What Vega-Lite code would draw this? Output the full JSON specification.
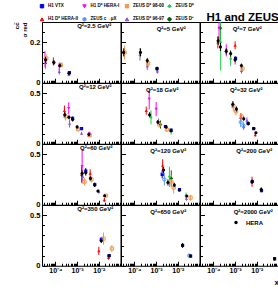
{
"$schema":"https://vega.github.io/schema/vega-lite/v6.json",
"autosize":{"type":"pad"},
"padding":{"left":13,"top":3,"right":0,"bottom":0},
"background":"white",
"data":{"values":[
{"p":1,"s":"HERA","x":3.5e-5,"y":0.113,"e":0.015},{"p":1,"s":"HERA","x":8.5e-5,"y":0.10,"e":0.012},{"p":1,"s":"HERA","x":1.6e-4,"y":0.085,"e":0.01},{"p":1,"s":"HERA","x":4.2e-4,"y":0.047,"e":0.006},
{"p":1,"s":"H1 D* HERA-I","x":3.3e-5,"y":0.115,"e":0.04},{"p":1,"s":"ZEUS D* 98-00","x":3.8e-5,"y":0.12,"e":0.02},{"p":1,"s":"ZEUS D* 96-97","x":3.5e-5,"y":0.10,"e":0.03},{"p":1,"s":"H1 D* HERA-II","x":8e-5,"y":0.105,"e":0.02},{"p":1,"s":"H1 D* HERA-I","x":1.5e-4,"y":0.08,"e":0.02},{"p":1,"s":"ZEUS D* 98-00","x":1.8e-4,"y":0.088,"e":0.012},{"p":1,"s":"ZEUS D* 96-97","x":1.5e-4,"y":0.055,"e":0.015},{"p":1,"s":"ZEUS D* 96-97","x":4.2e-4,"y":0.04,"e":0.008},{"p":1,"s":"H1 VTX","x":4.4e-4,"y":0.05,"e":0.008},
{"p":2,"s":"HERA","x":3.2e-5,"y":0.15,"e":0.02},{"p":2,"s":"HERA","x":1.9e-4,"y":0.15,"e":0.02},{"p":2,"s":"HERA","x":3.9e-4,"y":0.11,"e":0.012},{"p":2,"s":"HERA","x":1.1e-3,"y":0.069,"e":0.008},
{"p":2,"s":"ZEUS D* 98-00","x":3.5e-5,"y":0.15,"e":0.035},{"p":2,"s":"ZEUS D* 96-97","x":1.8e-4,"y":0.14,"e":0.03},{"p":2,"s":"ZEUS D* 98-00","x":4.3e-4,"y":0.095,"e":0.015},{"p":2,"s":"ZEUS D* 96-97","x":3.9e-4,"y":0.082,"e":0.02},{"p":2,"s":"ZEUS D* 96-97","x":1.15e-3,"y":0.057,"e":0.012},{"p":2,"s":"H1 VTX","x":1.1e-3,"y":0.07,"e":0.01},
{"p":3,"s":"HERA","x":1.65e-4,"y":0.207,"e":0.02},{"p":3,"s":"HERA","x":2.1e-4,"y":0.177,"e":0.02},{"p":3,"s":"HERA","x":3.9e-4,"y":0.155,"e":0.015},{"p":3,"s":"HERA","x":6.2e-4,"y":0.144,"e":0.015},{"p":3,"s":"HERA","x":1.0e-3,"y":0.114,"e":0.012},{"p":3,"s":"HERA","x":1.95e-3,"y":0.085,"e":0.01},
{"p":3,"s":"ZEUS D⁺","x":2.1e-4,"y":0.27,"e":0.06},{"p":3,"s":"ZEUS D⁰","x":2.15e-4,"y":0.2,"e":0.14},{"p":3,"s":"H1 D* HERA-I","x":1.8e-4,"y":0.27,"e":0.06},{"p":3,"s":"H1 D* HERA-II","x":1.6e-4,"y":0.2,"e":0.03},{"p":3,"s":"H1 D* HERA-II","x":1.0e-3,"y":0.185,"e":0.02},{"p":3,"s":"H1 D* HERA-I","x":3.9e-4,"y":0.16,"e":0.03},{"p":3,"s":"H1 D* HERA-I","x":1.0e-3,"y":0.11,"e":0.02},{"p":3,"s":"ZEUS D⁰","x":6.2e-4,"y":0.118,"e":0.035},{"p":3,"s":"ZEUS D* 96-97","x":1.95e-3,"y":0.06,"e":0.015},{"p":3,"s":"ZEUS D* 98-00","x":2.2e-3,"y":0.07,"e":0.015},{"p":3,"s":"H1 VTX","x":1.05e-3,"y":0.12,"e":0.01},
{"p":4,"s":"HERA","x":2.7e-4,"y":0.286,"e":0.025},{"p":4,"s":"HERA","x":4.2e-4,"y":0.262,"e":0.02},{"p":4,"s":"HERA","x":6.2e-4,"y":0.24,"e":0.02},{"p":4,"s":"HERA","x":1.0e-3,"y":0.166,"e":0.015},{"p":4,"s":"HERA","x":3.5e-3,"y":0.093,"e":0.01},
{"p":4,"s":"H1 D* HERA-II","x":2.6e-4,"y":0.327,"e":0.05},{"p":4,"s":"H1 D* HERA-II","x":3.5e-3,"y":0.08,"e":0.015},{"p":4,"s":"H1 D* HERA-I","x":4.1e-4,"y":0.35,"e":0.06},{"p":4,"s":"H1 D* HERA-I","x":3.6e-3,"y":0.1,"e":0.02},{"p":4,"s":"ZEUS D* 98-00","x":2.9e-4,"y":0.27,"e":0.04},{"p":4,"s":"ZEUS D* 98-00","x":1.1e-3,"y":0.143,"e":0.02},{"p":4,"s":"ZEUS D* 98-00","x":3.8e-3,"y":0.085,"e":0.012},{"p":4,"s":"ZEUS D* 96-97","x":4.5e-4,"y":0.2,"e":0.04},{"p":4,"s":"ZEUS D* 96-97","x":1.6e-3,"y":0.103,"e":0.015},{"p":4,"s":"H1 VTX","x":6.2e-4,"y":0.25,"e":0.02},{"p":4,"s":"H1 VTX","x":1.6e-3,"y":0.15,"e":0.015},
{"p":5,"s":"HERA","x":5.0e-4,"y":0.286,"e":0.025},{"p":5,"s":"HERA","x":1.2e-3,"y":0.214,"e":0.02},{"p":5,"s":"HERA","x":2.9e-3,"y":0.166,"e":0.015},{"p":5,"s":"HERA","x":4.9e-3,"y":0.128,"e":0.012},
{"p":5,"s":"H1 D* HERA-II","x":3.5e-4,"y":0.327,"e":0.04},{"p":5,"s":"H1 D* HERA-I","x":4.8e-4,"y":0.44,"e":0.1},{"p":5,"s":"H1 D* HERA-I","x":1.0e-3,"y":0.343,"e":0.07},{"p":5,"s":"ZEUS D⁰","x":5.8e-4,"y":0.26,"e":0.07},{"p":5,"s":"ZEUS D⁰","x":4.9e-3,"y":0.12,"e":0.03},{"p":5,"s":"ZEUS D⁺","x":1.6e-3,"y":0.19,"e":0.04},{"p":5,"s":"ZEUS D* 96-97","x":1.3e-3,"y":0.22,"e":0.03},{"p":5,"s":"ZEUS D* 98-00","x":1.4e-3,"y":0.19,"e":0.03},{"p":5,"s":"ZEUS D* 98-00","x":3.1e-3,"y":0.14,"e":0.02},{"p":5,"s":"H1 VTX","x":2.7e-3,"y":0.17,"e":0.015},{"p":5,"s":"H1 VTX","x":4.9e-3,"y":0.135,"e":0.012},
{"p":6,"s":"HERA","x":7.8e-4,"y":0.39,"e":0.03},{"p":6,"s":"HERA","x":1.15e-3,"y":0.343,"e":0.025},{"p":6,"s":"HERA","x":2.5e-3,"y":0.247,"e":0.02},{"p":6,"s":"HERA","x":4.0e-3,"y":0.199,"e":0.02},{"p":6,"s":"HERA","x":7.2e-3,"y":0.151,"e":0.015},{"p":6,"s":"HERA","x":9.1e-3,"y":0.109,"e":0.01},
{"p":6,"s":"ZEUS D* 98-00","x":8.3e-4,"y":0.37,"e":0.05},{"p":6,"s":"ZEUS D* 98-00","x":1.1e-3,"y":0.32,"e":0.04},{"p":6,"s":"ZEUS D* 98-00","x":2.0e-3,"y":0.27,"e":0.03},{"p":6,"s":"H1 D* HERA-II","x":1.8e-3,"y":0.26,"e":0.04},{"p":6,"s":"H1 D* HERA-II","x":8.5e-3,"y":0.087,"e":0.015},{"p":6,"s":"ZEUS c→μX","x":1.8e-3,"y":0.214,"e":0.05},{"p":6,"s":"ZEUS c→μX","x":2.4e-3,"y":0.18,"e":0.04},{"p":6,"s":"ZEUS D* 96-97","x":2.5e-3,"y":0.17,"e":0.03},{"p":6,"s":"ZEUS D* 96-97","x":3.5e-3,"y":0.23,"e":0.03},{"p":6,"s":"H1 VTX","x":4.0e-3,"y":0.2,"e":0.015},{"p":6,"s":"H1 VTX","x":7.2e-3,"y":0.15,"e":0.012},
{"p":7,"s":"HERA","x":1.7e-3,"y":0.31,"e":0.03},{"p":7,"s":"HERA","x":2.5e-3,"y":0.318,"e":0.03},{"p":7,"s":"HERA","x":4.1e-3,"y":0.26,"e":0.02},{"p":7,"s":"HERA","x":6.5e-3,"y":0.195,"e":0.02},{"p":7,"s":"HERA","x":9.1e-3,"y":0.136,"e":0.012},{"p":7,"s":"HERA","x":1.86e-2,"y":0.089,"e":0.01},
{"p":7,"s":"H1 D* HERA-I","x":1.7e-3,"y":0.38,"e":0.17},{"p":7,"s":"H1 D* HERA-II","x":1.6e-3,"y":0.3,"e":0.08},{"p":7,"s":"H1 D* HERA-II","x":4.0e-3,"y":0.31,"e":0.04},{"p":7,"s":"H1 D* HERA-II","x":1.8e-2,"y":0.047,"e":0.02},{"p":7,"s":"H1 VTX","x":2.5e-3,"y":0.333,"e":0.03},{"p":7,"s":"H1 VTX","x":6.5e-3,"y":0.2,"e":0.02},{"p":7,"s":"ZEUS D* 96-97","x":1.8e-3,"y":0.28,"e":0.04},{"p":7,"s":"ZEUS D* 96-97","x":1.0e-2,"y":0.129,"e":0.02},{"p":7,"s":"ZEUS D* 98-00","x":2.2e-3,"y":0.228,"e":0.04},{"p":7,"s":"ZEUS D* 98-00","x":4.6e-3,"y":0.25,"e":0.03},{"p":7,"s":"ZEUS D* 98-00","x":2.1e-2,"y":0.09,"e":0.015},
{"p":8,"s":"HERA","x":2.2e-3,"y":0.343,"e":0.03},{"p":8,"s":"HERA","x":3.5e-3,"y":0.22,"e":0.03},{"p":8,"s":"HERA","x":6.9e-3,"y":0.195,"e":0.02},{"p":8,"s":"HERA","x":1.17e-2,"y":0.146,"e":0.015},{"p":8,"s":"HERA","x":2.6e-2,"y":0.086,"e":0.01},
{"p":8,"s":"H1 D* HERA-II","x":2.0e-3,"y":0.39,"e":0.06},{"p":8,"s":"H1 VTX","x":1.9e-3,"y":0.3,"e":0.04},{"p":8,"s":"H1 VTX","x":1.2e-2,"y":0.15,"e":0.015},{"p":8,"s":"ZEUS c→μX","x":2.4e-3,"y":0.25,"e":0.06},{"p":8,"s":"ZEUS D* 96-97","x":2.1e-3,"y":0.32,"e":0.04},{"p":8,"s":"ZEUS D* 96-97","x":2.5e-2,"y":0.06,"e":0.02},{"p":8,"s":"ZEUS D⁰","x":4.1e-3,"y":0.277,"e":0.1},{"p":8,"s":"ZEUS D⁰","x":2.4e-2,"y":0.09,"e":0.03},{"p":8,"s":"ZEUS D⁺","x":5.0e-3,"y":0.26,"e":0.08},{"p":8,"s":"ZEUS D* 98-00","x":5.0e-3,"y":0.23,"e":0.06},{"p":8,"s":"ZEUS D* 98-00","x":6.5e-3,"y":0.17,"e":0.06},{"p":8,"s":"ZEUS D* 98-00","x":3.9e-2,"y":0.07,"e":0.03},
{"p":9,"s":"HERA","x":6.0e-3,"y":0.227,"e":0.02},{"p":9,"s":"HERA","x":1.6e-2,"y":0.15,"e":0.015},
{"p":9,"s":"H1 D* HERA-II","x":6.0e-3,"y":0.227,"e":0.05},{"p":9,"s":"H1 D* HERA-II","x":1.6e-2,"y":0.15,"e":0.025},{"p":9,"s":"H1 VTX","x":6.2e-3,"y":0.23,"e":0.02},{"p":9,"s":"H1 VTX","x":1.65e-2,"y":0.14,"e":0.015},
{"p":10,"s":"HERA","x":1.3e-2,"y":0.246,"e":0.02},{"p":10,"s":"HERA","x":2.95e-2,"y":0.098,"e":0.012},
{"p":10,"s":"H1 VTX","x":1.3e-2,"y":0.26,"e":0.025},{"p":10,"s":"H1 VTX","x":3.0e-2,"y":0.1,"e":0.015},{"p":10,"s":"H1 D* HERA-II","x":1.0e-2,"y":0.147,"e":0.04},{"p":10,"s":"H1 D* HERA-II","x":2.8e-2,"y":0.08,"e":0.02},{"p":10,"s":"ZEUS D* 98-00","x":1.65e-2,"y":0.268,"e":0.06},{"p":10,"s":"ZEUS D* 98-00","x":4.0e-2,"y":0.17,"e":0.035},
{"p":11,"s":"HERA","x":1.66e-2,"y":0.204,"e":0.02},{"p":11,"s":"HERA","x":3.8e-2,"y":0.098,"e":0.012},
{"p":11,"s":"H1 VTX","x":1.66e-2,"y":0.2,"e":0.025},{"p":11,"s":"H1 VTX","x":3.9e-2,"y":0.095,"e":0.015},{"p":11,"s":"ZEUS c→μX","x":3.3e-2,"y":0.1,"e":0.02},
{"p":12,"s":"HERA","x":6.6e-2,"y":0.066,"e":0.01},{"p":12,"s":"H1 VTX","x":6.6e-2,"y":0.07,"e":0.012}
]},
"columns":3,
"spacing":0,
"bounds":"flush",
"concat":[
{"width":78.5,"height":60.75,"title":{"text":"Q²=2.5 GeV²","dx":13},"transform":[{"filter":"datum.p==1"}],
 "encoding":{"x":{"field":"x","type":"quantitative","scale":{"type":"log","domain":[2.4e-5,0.1],"nice":false},"axis":{"title":null}},
  "y":{"field":"y","type":"quantitative","scale":{"domain":[0,0.3],"nice":false,"zero":false},"axis":{"title":["cc̄","σ red"],"titleFontSize":6,"titleAnchor":"end","titlePadding":2,"labels":true,"labelExpr":"datum.value==0?'0':abs(datum.value-0.2)<1e-6?'0.2':''","tickSize":{"condition":{"test":"datum.value==0||abs(datum.value-0.1)<1e-6||abs(datum.value-0.2)<1e-6","value":-4.5},"value":-2.5}}}},
 "layer":[
  {"transform":[{"filter":"datum.s!='HERA'"}],"mark":{"type":"errorbar","thickness":1,"clip":true},"encoding":{"yError":{"field":"e"},"color":{"field":"s","type":"nominal","scale":{"domain":["H1 VTX","H1 D* HERA-I","ZEUS D* 98-00","ZEUS D⁰","H1 D* HERA-II","ZEUS c→μX","ZEUS D* 96-97","ZEUS D⁺"],"range":["#0000ee","#ff00ff","#f09850","#22cc44","#ff0000","#5599ff","#8855cc","#006600"]},"legend":{"orient":"none","legendX":-2.5,"legendY":-18.7,"columns":4,"direction":"horizontal","title":"H1 and ZEUS","titleOrient":"right","titleAnchor":"end","titleBaseline":"bottom","titleFontSize":11.5,"titleFont":"Liberation Sans","titleFontWeight":"bold","titleColor":"black","titlePadding":12,"titleLimit":300,"symbolSize":12,"labelFontSize":4.5,"labelFont":"Liberation Sans","labelFontWeight":"bold","labelColor":"black","labelOffset":3.5,"columnPadding":0.5,"rowPadding":4.5,"gridAlign":"all","symbolStrokeWidth":1}}}},
  {"transform":[{"filter":"datum.s!='HERA'&&datum.s!='ZEUS D* 98-00'&&datum.s!='ZEUS c→μX'"}],"mark":{"type":"point","filled":true,"size":10,"opacity":1,"clip":true},"encoding":{"color":{"field":"s","type":"nominal"},"shape":{"field":"s","type":"nominal","scale":{"domain":["H1 VTX","H1 D* HERA-I","ZEUS D* 98-00","ZEUS D⁰","H1 D* HERA-II","ZEUS c→μX","ZEUS D* 96-97","ZEUS D⁺"],"range":["square","triangle-down","square","diamond","triangle-up","circle","triangle-up","cross"]},"legend":{"orient":"none","legendX":-2.5,"legendY":-18.7,"columns":4,"direction":"horizontal","title":"H1 and ZEUS","titleOrient":"right","titleAnchor":"end","titleBaseline":"bottom","titleFontSize":11.5,"titleFont":"Liberation Sans","titleFontWeight":"bold","titleColor":"black","titlePadding":12,"titleLimit":300,"symbolSize":12,"labelFontSize":4.5,"labelFont":"Liberation Sans","labelFontWeight":"bold","labelColor":"black","labelOffset":3.5,"columnPadding":0.5,"rowPadding":4.5,"gridAlign":"all","symbolStrokeWidth":1}}}},
  {"transform":[{"filter":"datum.s=='ZEUS D* 98-00'||datum.s=='ZEUS c→μX'"}],"mark":{"type":"point","filled":false,"size":10,"strokeWidth":1,"opacity":1,"clip":true},"encoding":{"color":{"field":"s","type":"nominal"},"shape":{"field":"s","type":"nominal"}}},
  {"transform":[{"filter":"datum.s=='HERA'"}],"mark":{"type":"errorbar","color":"black","thickness":1,"clip":true},"encoding":{"yError":{"field":"e"}}},
  {"transform":[{"filter":"datum.s=='HERA'"}],"mark":{"type":"point","filled":true,"size":10,"opacity":1,"clip":true},"encoding":{"fill":{"datum":"HERA","type":"nominal","scale":{"range":["black"]},"legend":{"orient":"none","legendX":191,"legendY":197.5,"title":null,"symbolSize":12,"labelFontSize":6,"labelFont":"Liberation Sans","labelFontWeight":"bold","labelColor":"black","labelOffset":7}}}}
 ]},
{"width":78.5,"height":60.75,"title":{"text":"Q²=5 GeV²","dx":11},"transform":[{"filter":"datum.p==2"}],
 "encoding":{"x":{"field":"x","type":"quantitative","scale":{"type":"log","domain":[2.4e-5,0.1],"nice":false},"axis":{"title":null}},
  "y":{"field":"y","type":"quantitative","scale":{"domain":[0,0.3],"nice":false,"zero":false},"axis":{"title":null,"tickSize":{"condition":{"test":"datum.value==0||abs(datum.value-0.1)<1e-6||abs(datum.value-0.2)<1e-6","value":-4.5},"value":-2.5}}}},
 "layer":[
  {"transform":[{"filter":"datum.s!='HERA'"}],"mark":{"type":"errorbar","thickness":1,"clip":true},"encoding":{"yError":{"field":"e"},"color":{"field":"s","type":"nominal"}}},
  {"transform":[{"filter":"datum.s!='HERA'&&datum.s!='ZEUS D* 98-00'&&datum.s!='ZEUS c→μX'"}],"mark":{"type":"point","filled":true,"size":10,"opacity":1,"clip":true},"encoding":{"color":{"field":"s","type":"nominal"},"shape":{"field":"s","type":"nominal"}}},
  {"transform":[{"filter":"datum.s=='ZEUS D* 98-00'||datum.s=='ZEUS c→μX'"}],"mark":{"type":"point","filled":false,"size":10,"strokeWidth":1,"opacity":1,"clip":true},"encoding":{"color":{"field":"s","type":"nominal"},"shape":{"field":"s","type":"nominal"}}},
  {"transform":[{"filter":"datum.s=='HERA'"}],"mark":{"type":"errorbar","color":"black","thickness":1,"clip":true},"encoding":{"yError":{"field":"e"}}},
  {"transform":[{"filter":"datum.s=='HERA'"}],"mark":{"type":"point","filled":true,"size":10,"opacity":1,"clip":true},"encoding":{"fill":{"datum":"HERA","type":"nominal"}}}
 ]},
{"width":78.5,"height":60.75,"title":{"text":"Q²=7 GeV²","dx":8},"transform":[{"filter":"datum.p==3"}],
 "encoding":{"x":{"field":"x","type":"quantitative","scale":{"type":"log","domain":[2.4e-5,0.1],"nice":false},"axis":{"title":null}},
  "y":{"field":"y","type":"quantitative","scale":{"domain":[0,0.3],"nice":false,"zero":false},"axis":{"title":null,"tickSize":{"condition":{"test":"datum.value==0||abs(datum.value-0.1)<1e-6||abs(datum.value-0.2)<1e-6","value":-4.5},"value":-2.5}}}},
 "layer":[
  {"transform":[{"filter":"datum.s!='HERA'"}],"mark":{"type":"errorbar","thickness":1,"clip":true},"encoding":{"yError":{"field":"e"},"color":{"field":"s","type":"nominal"}}},
  {"transform":[{"filter":"datum.s!='HERA'&&datum.s!='ZEUS D* 98-00'&&datum.s!='ZEUS c→μX'"}],"mark":{"type":"point","filled":true,"size":10,"opacity":1,"clip":true},"encoding":{"color":{"field":"s","type":"nominal"},"shape":{"field":"s","type":"nominal"}}},
  {"transform":[{"filter":"datum.s=='ZEUS D* 98-00'||datum.s=='ZEUS c→μX'"}],"mark":{"type":"point","filled":false,"size":10,"strokeWidth":1,"opacity":1,"clip":true},"encoding":{"color":{"field":"s","type":"nominal"},"shape":{"field":"s","type":"nominal"}}},
  {"transform":[{"filter":"datum.s=='HERA'"}],"mark":{"type":"errorbar","color":"black","thickness":1,"clip":true},"encoding":{"yError":{"field":"e"}}},
  {"transform":[{"filter":"datum.s=='HERA'"}],"mark":{"type":"point","filled":true,"size":10,"opacity":1,"clip":true},"encoding":{"fill":{"datum":"HERA","type":"nominal"}}}
 ]},
{"width":78.5,"height":60.75,"title":{"text":"Q²=12 GeV²","dx":14},"transform":[{"filter":"datum.p==4"}],
 "encoding":{"x":{"field":"x","type":"quantitative","scale":{"type":"log","domain":[2.4e-5,0.1],"nice":false},"axis":{"title":null}},
  "y":{"field":"y","type":"quantitative","scale":{"domain":[0,0.6],"nice":false,"zero":false},"axis":{"title":null,"labels":true}}},
 "layer":[
  {"transform":[{"filter":"datum.s!='HERA'"}],"mark":{"type":"errorbar","thickness":1,"clip":true},"encoding":{"yError":{"field":"e"},"color":{"field":"s","type":"nominal"}}},
  {"transform":[{"filter":"datum.s!='HERA'&&datum.s!='ZEUS D* 98-00'&&datum.s!='ZEUS c→μX'"}],"mark":{"type":"point","filled":true,"size":10,"opacity":1,"clip":true},"encoding":{"color":{"field":"s","type":"nominal"},"shape":{"field":"s","type":"nominal"}}},
  {"transform":[{"filter":"datum.s=='ZEUS D* 98-00'||datum.s=='ZEUS c→μX'"}],"mark":{"type":"point","filled":false,"size":10,"strokeWidth":1,"opacity":1,"clip":true},"encoding":{"color":{"field":"s","type":"nominal"},"shape":{"field":"s","type":"nominal"}}},
  {"transform":[{"filter":"datum.s=='HERA'"}],"mark":{"type":"errorbar","color":"black","thickness":1,"clip":true},"encoding":{"yError":{"field":"e"}}},
  {"transform":[{"filter":"datum.s=='HERA'"}],"mark":{"type":"point","filled":true,"size":10,"opacity":1,"clip":true},"encoding":{"fill":{"datum":"HERA","type":"nominal"}}}
 ]},
{"width":78.5,"height":60.75,"title":{"text":"Q²=18 GeV²","dx":2},"transform":[{"filter":"datum.p==5"}],
 "encoding":{"x":{"field":"x","type":"quantitative","scale":{"type":"log","domain":[2.4e-5,0.1],"nice":false},"axis":{"title":null}},
  "y":{"field":"y","type":"quantitative","scale":{"domain":[0,0.6],"nice":false,"zero":false},"axis":{"title":null}}},
 "layer":[
  {"transform":[{"filter":"datum.s!='HERA'"}],"mark":{"type":"errorbar","thickness":1,"clip":true},"encoding":{"yError":{"field":"e"},"color":{"field":"s","type":"nominal"}}},
  {"transform":[{"filter":"datum.s!='HERA'&&datum.s!='ZEUS D* 98-00'&&datum.s!='ZEUS c→μX'"}],"mark":{"type":"point","filled":true,"size":10,"opacity":1,"clip":true},"encoding":{"color":{"field":"s","type":"nominal"},"shape":{"field":"s","type":"nominal"}}},
  {"transform":[{"filter":"datum.s=='ZEUS D* 98-00'||datum.s=='ZEUS c→μX'"}],"mark":{"type":"point","filled":false,"size":10,"strokeWidth":1,"opacity":1,"clip":true},"encoding":{"color":{"field":"s","type":"nominal"},"shape":{"field":"s","type":"nominal"}}},
  {"transform":[{"filter":"datum.s=='HERA'"}],"mark":{"type":"errorbar","color":"black","thickness":1,"clip":true},"encoding":{"yError":{"field":"e"}}},
  {"transform":[{"filter":"datum.s=='HERA'"}],"mark":{"type":"point","filled":true,"size":10,"opacity":1,"clip":true},"encoding":{"fill":{"datum":"HERA","type":"nominal"}}}
 ]},
{"width":78.5,"height":60.75,"title":{"text":"Q²=32 GeV²","dx":7},"transform":[{"filter":"datum.p==6"}],
 "encoding":{"x":{"field":"x","type":"quantitative","scale":{"type":"log","domain":[2.4e-5,0.1],"nice":false},"axis":{"title":null}},
  "y":{"field":"y","type":"quantitative","scale":{"domain":[0,0.6],"nice":false,"zero":false},"axis":{"title":null}}},
 "layer":[
  {"transform":[{"filter":"datum.s!='HERA'"}],"mark":{"type":"errorbar","thickness":1,"clip":true},"encoding":{"yError":{"field":"e"},"color":{"field":"s","type":"nominal"}}},
  {"transform":[{"filter":"datum.s!='HERA'&&datum.s!='ZEUS D* 98-00'&&datum.s!='ZEUS c→μX'"}],"mark":{"type":"point","filled":true,"size":10,"opacity":1,"clip":true},"encoding":{"color":{"field":"s","type":"nominal"},"shape":{"field":"s","type":"nominal"}}},
  {"transform":[{"filter":"datum.s=='ZEUS D* 98-00'||datum.s=='ZEUS c→μX'"}],"mark":{"type":"point","filled":false,"size":10,"strokeWidth":1,"opacity":1,"clip":true},"encoding":{"color":{"field":"s","type":"nominal"},"shape":{"field":"s","type":"nominal"}}},
  {"transform":[{"filter":"datum.s=='HERA'"}],"mark":{"type":"errorbar","color":"black","thickness":1,"clip":true},"encoding":{"yError":{"field":"e"}}},
  {"transform":[{"filter":"datum.s=='HERA'"}],"mark":{"type":"point","filled":true,"size":10,"opacity":1,"clip":true},"encoding":{"fill":{"datum":"HERA","type":"nominal"}}}
 ]},
{"width":78.5,"height":60.75,"title":{"text":"Q²=60 GeV²","dx":15},"transform":[{"filter":"datum.p==7"}],
 "encoding":{"x":{"field":"x","type":"quantitative","scale":{"type":"log","domain":[2.4e-5,0.1],"nice":false},"axis":{"title":null}},
  "y":{"field":"y","type":"quantitative","scale":{"domain":[0,0.6],"nice":false,"zero":false},"axis":{"title":null,"labels":true}}},
 "layer":[
  {"transform":[{"filter":"datum.s!='HERA'"}],"mark":{"type":"errorbar","thickness":1,"clip":true},"encoding":{"yError":{"field":"e"},"color":{"field":"s","type":"nominal"}}},
  {"transform":[{"filter":"datum.s!='HERA'&&datum.s!='ZEUS D* 98-00'&&datum.s!='ZEUS c→μX'"}],"mark":{"type":"point","filled":true,"size":10,"opacity":1,"clip":true},"encoding":{"color":{"field":"s","type":"nominal"},"shape":{"field":"s","type":"nominal"}}},
  {"transform":[{"filter":"datum.s=='ZEUS D* 98-00'||datum.s=='ZEUS c→μX'"}],"mark":{"type":"point","filled":false,"size":10,"strokeWidth":1,"opacity":1,"clip":true},"encoding":{"color":{"field":"s","type":"nominal"},"shape":{"field":"s","type":"nominal"}}},
  {"transform":[{"filter":"datum.s=='HERA'"}],"mark":{"type":"errorbar","color":"black","thickness":1,"clip":true},"encoding":{"yError":{"field":"e"}}},
  {"transform":[{"filter":"datum.s=='HERA'"}],"mark":{"type":"point","filled":true,"size":10,"opacity":1,"clip":true},"encoding":{"fill":{"datum":"HERA","type":"nominal"}}}
 ]},
{"width":78.5,"height":60.75,"title":{"text":"Q²=120 GeV²","dx":8},"transform":[{"filter":"datum.p==8"}],
 "encoding":{"x":{"field":"x","type":"quantitative","scale":{"type":"log","domain":[2.4e-5,0.1],"nice":false},"axis":{"title":null}},
  "y":{"field":"y","type":"quantitative","scale":{"domain":[0,0.6],"nice":false,"zero":false},"axis":{"title":null}}},
 "layer":[
  {"transform":[{"filter":"datum.s!='HERA'"}],"mark":{"type":"errorbar","thickness":1,"clip":true},"encoding":{"yError":{"field":"e"},"color":{"field":"s","type":"nominal"}}},
  {"transform":[{"filter":"datum.s!='HERA'&&datum.s!='ZEUS D* 98-00'&&datum.s!='ZEUS c→μX'"}],"mark":{"type":"point","filled":true,"size":10,"opacity":1,"clip":true},"encoding":{"color":{"field":"s","type":"nominal"},"shape":{"field":"s","type":"nominal"}}},
  {"transform":[{"filter":"datum.s=='ZEUS D* 98-00'||datum.s=='ZEUS c→μX'"}],"mark":{"type":"point","filled":false,"size":10,"strokeWidth":1,"opacity":1,"clip":true},"encoding":{"color":{"field":"s","type":"nominal"},"shape":{"field":"s","type":"nominal"}}},
  {"transform":[{"filter":"datum.s=='HERA'"}],"mark":{"type":"errorbar","color":"black","thickness":1,"clip":true},"encoding":{"yError":{"field":"e"}}},
  {"transform":[{"filter":"datum.s=='HERA'"}],"mark":{"type":"point","filled":true,"size":10,"opacity":1,"clip":true},"encoding":{"fill":{"datum":"HERA","type":"nominal"}}}
 ]},
{"width":78.5,"height":60.75,"title":{"text":"Q²=200 GeV²","dx":15},"transform":[{"filter":"datum.p==9"}],
 "encoding":{"x":{"field":"x","type":"quantitative","scale":{"type":"log","domain":[2.4e-5,0.1],"nice":false},"axis":{"title":null}},
  "y":{"field":"y","type":"quantitative","scale":{"domain":[0,0.6],"nice":false,"zero":false},"axis":{"title":null}}},
 "layer":[
  {"transform":[{"filter":"datum.s!='HERA'"}],"mark":{"type":"errorbar","thickness":1,"clip":true},"encoding":{"yError":{"field":"e"},"color":{"field":"s","type":"nominal"}}},
  {"transform":[{"filter":"datum.s!='HERA'&&datum.s!='ZEUS D* 98-00'&&datum.s!='ZEUS c→μX'"}],"mark":{"type":"point","filled":true,"size":10,"opacity":1,"clip":true},"encoding":{"color":{"field":"s","type":"nominal"},"shape":{"field":"s","type":"nominal"}}},
  {"transform":[{"filter":"datum.s=='ZEUS D* 98-00'||datum.s=='ZEUS c→μX'"}],"mark":{"type":"point","filled":false,"size":10,"strokeWidth":1,"opacity":1,"clip":true},"encoding":{"color":{"field":"s","type":"nominal"},"shape":{"field":"s","type":"nominal"}}},
  {"transform":[{"filter":"datum.s=='HERA'"}],"mark":{"type":"errorbar","color":"black","thickness":1,"clip":true},"encoding":{"yError":{"field":"e"}}},
  {"transform":[{"filter":"datum.s=='HERA'"}],"mark":{"type":"point","filled":true,"size":10,"opacity":1,"clip":true},"encoding":{"fill":{"datum":"HERA","type":"nominal"}}}
 ]},
{"width":78.5,"height":60.75,"title":{"text":"Q²=350 GeV²","dx":14},"transform":[{"filter":"datum.p==10"}],
 "encoding":{"x":{"field":"x","type":"quantitative","scale":{"type":"log","domain":[2.4e-5,0.1],"nice":false},"axis":{"title":null,"labels":true}},
  "y":{"field":"y","type":"quantitative","scale":{"domain":[0,0.6],"nice":false,"zero":false},"axis":{"title":null,"labels":true}}},
 "layer":[
  {"transform":[{"filter":"datum.s!='HERA'"}],"mark":{"type":"errorbar","thickness":1,"clip":true},"encoding":{"yError":{"field":"e"},"color":{"field":"s","type":"nominal"}}},
  {"transform":[{"filter":"datum.s!='HERA'&&datum.s!='ZEUS D* 98-00'&&datum.s!='ZEUS c→μX'"}],"mark":{"type":"point","filled":true,"size":10,"opacity":1,"clip":true},"encoding":{"color":{"field":"s","type":"nominal"},"shape":{"field":"s","type":"nominal"}}},
  {"transform":[{"filter":"datum.s=='ZEUS D* 98-00'||datum.s=='ZEUS c→μX'"}],"mark":{"type":"point","filled":false,"size":10,"strokeWidth":1,"opacity":1,"clip":true},"encoding":{"color":{"field":"s","type":"nominal"},"shape":{"field":"s","type":"nominal"}}},
  {"transform":[{"filter":"datum.s=='HERA'"}],"mark":{"type":"errorbar","color":"black","thickness":1,"clip":true},"encoding":{"yError":{"field":"e"}}},
  {"transform":[{"filter":"datum.s=='HERA'"}],"mark":{"type":"point","filled":true,"size":10,"opacity":1,"clip":true},"encoding":{"fill":{"datum":"HERA","type":"nominal"}}}
 ]},
{"width":78.5,"height":60.75,"title":{"text":"Q²=650 GeV²","dx":8},"transform":[{"filter":"datum.p==11"}],
 "encoding":{"x":{"field":"x","type":"quantitative","scale":{"type":"log","domain":[2.4e-5,0.1],"nice":false},"axis":{"title":null,"labels":true}},
  "y":{"field":"y","type":"quantitative","scale":{"domain":[0,0.6],"nice":false,"zero":false},"axis":{"title":null}}},
 "layer":[
  {"transform":[{"filter":"datum.s!='HERA'"}],"mark":{"type":"errorbar","thickness":1,"clip":true},"encoding":{"yError":{"field":"e"},"color":{"field":"s","type":"nominal"}}},
  {"transform":[{"filter":"datum.s!='HERA'&&datum.s!='ZEUS D* 98-00'&&datum.s!='ZEUS c→μX'"}],"mark":{"type":"point","filled":true,"size":10,"opacity":1,"clip":true},"encoding":{"color":{"field":"s","type":"nominal"},"shape":{"field":"s","type":"nominal"}}},
  {"transform":[{"filter":"datum.s=='ZEUS D* 98-00'||datum.s=='ZEUS c→μX'"}],"mark":{"type":"point","filled":false,"size":10,"strokeWidth":1,"opacity":1,"clip":true},"encoding":{"color":{"field":"s","type":"nominal"},"shape":{"field":"s","type":"nominal"}}},
  {"transform":[{"filter":"datum.s=='HERA'"}],"mark":{"type":"errorbar","color":"black","thickness":1,"clip":true},"encoding":{"yError":{"field":"e"}}},
  {"transform":[{"filter":"datum.s=='HERA'"}],"mark":{"type":"point","filled":true,"size":10,"opacity":1,"clip":true},"encoding":{"fill":{"datum":"HERA","type":"nominal"}}}
 ]},
{"width":78.5,"height":60.75,"title":{"text":"Q²=2000 GeV²","dx":14},"transform":[{"filter":"datum.p==12"}],
 "encoding":{"x":{"field":"x","type":"quantitative","scale":{"type":"log","domain":[2.4e-5,0.1],"nice":false},"axis":{"title":"x","labels":true,"titleAnchor":"end","titleFontSize":8,"titlePadding":3}},
  "y":{"field":"y","type":"quantitative","scale":{"domain":[0,0.6],"nice":false,"zero":false},"axis":{"title":null}}},
 "layer":[
  {"transform":[{"filter":"datum.s!='HERA'"}],"mark":{"type":"errorbar","thickness":1,"clip":true},"encoding":{"yError":{"field":"e"},"color":{"field":"s","type":"nominal"}}},
  {"transform":[{"filter":"datum.s!='HERA'&&datum.s!='ZEUS D* 98-00'&&datum.s!='ZEUS c→μX'"}],"mark":{"type":"point","filled":true,"size":10,"opacity":1,"clip":true},"encoding":{"color":{"field":"s","type":"nominal"},"shape":{"field":"s","type":"nominal"}}},
  {"transform":[{"filter":"datum.s=='ZEUS D* 98-00'||datum.s=='ZEUS c→μX'"}],"mark":{"type":"point","filled":false,"size":10,"strokeWidth":1,"opacity":1,"clip":true},"encoding":{"color":{"field":"s","type":"nominal"},"shape":{"field":"s","type":"nominal"}}},
  {"transform":[{"filter":"datum.s=='HERA'"}],"mark":{"type":"errorbar","color":"black","thickness":1,"clip":true},"encoding":{"yError":{"field":"e"}}},
  {"transform":[{"filter":"datum.s=='HERA'"}],"mark":{"type":"point","filled":true,"size":10,"opacity":1,"clip":true},"encoding":{"fill":{"datum":"HERA","type":"nominal"}}}
 ]}
],
"config":{
 "font":"Liberation Sans",
 "view":{"stroke":"black","strokeWidth":1},
 "title":{"anchor":"middle","frame":"group","offset":-10.5,"fontSize":6,"fontWeight":"bold","font":"Liberation Sans","color":"black"},
 "axis":{"grid":false,"domain":false,"tickColor":"black","tickWidth":1,"labelFont":"Liberation Sans","labelFontWeight":"bold","labelColor":"black","titleFont":"Liberation Sans","titleFontWeight":"bold","titleColor":"black","labels":false},
 "axisX":{"tickCount":10,"labelExpr":"abs(datum.value-0.0001)<1e-9?'10⁻⁴':abs(datum.value-0.001)<1e-8?'10⁻³':abs(datum.value-0.01)<1e-7?'10⁻²':''","tickSize":{"condition":{"test":"abs(datum.value-0.0001)<1e-9||abs(datum.value-0.001)<1e-8||abs(datum.value-0.01)<1e-7","value":-4.5},"value":-2.5},"labelPadding":5.5,"labelFontSize":7,"labelOverlap":false,"labelFlush":false,"labelBound":false},
 "axisY":{"tickCount":6,"labelExpr":"datum.value==0?'0':abs(datum.value-0.5)<1e-6?'0.5':''","tickSize":{"condition":{"test":"datum.value==0||abs(datum.value-0.5)<1e-6","value":-4.5},"value":-2.5},"labelPadding":6.5,"labelFontSize":7.5,"labelOverlap":false,"labelFlush":false,"labelBound":false}
}
}
